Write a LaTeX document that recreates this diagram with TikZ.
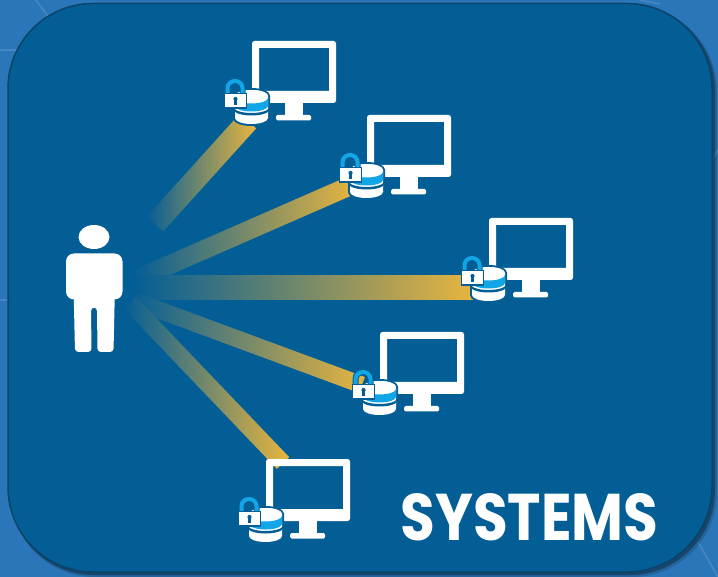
\documentclass[tikz,border=0pt]{standalone}
\usepackage{fontspec}
\setmainfont{Poppins}
\usetikzlibrary{calc,shapes.geometric}
\definecolor{panel}{HTML}{045E96}
\definecolor{outer}{HTML}{2A76B8}
\definecolor{rim}{HTML}{0B4468}
\definecolor{gold}{HTML}{E8B53E}
\definecolor{sky}{HTML}{12A5E8}
\tikzset{
  x=1pt,y=-1pt,
  faint/.style={draw=white,opacity=.13,line width=1.6pt},
  beam/.style={draw=none,inner sep=0,outer sep=0,anchor=west,left color=panel,right color=gold},
}
\newcommand{\beamline}[3]{%
  \path let \p1=(#1),\p2=(#2),\n1={atan2(\y2-\y1,\x2-\x1)},\n2={veclen(\x2-\x1,\y2-\y1)} in
    node[beam,rotate=\n1,minimum width=\n2,minimum height=#3pt] (beam-#2) at (#1) {};}
\newcommand{\sysicon}[3]{%
  \begin{scope}[shift={(#1,#2)}]
    % monitor
    \fill[white,even odd rule,rounded corners=2.5pt] (0,0) rectangle (84,62) [sharp corners] (7,7) rectangle (77,50);
    \fill[white] (33,61) rectangle (51,75);
    \fill[white,rounded corners=1.5pt] (24,74) rectangle (59,79.5);
    % database
    \draw[panel,line width=4pt,fill=panel] (-17,55) -- (-17,77) arc[start angle=180,end angle=0,x radius=16.5,y radius=6] -- (16,55)
       arc[start angle=0,end angle=-180,x radius=16.5,y radius=6] -- cycle;
    \fill[white] (-17,55) -- (-17,77) arc[start angle=180,end angle=0,x radius=16.5,y radius=6] -- (16,55)
       arc[start angle=0,end angle=-180,x radius=16.5,y radius=6];
    \fill[panel] (-18,66.5) arc[start angle=180,end angle=0,x radius=17.5,y radius=5.5] -- (17,69) arc[start angle=0,end angle=180,x radius=17.5,y radius=5.5] -- cycle;
    \fill[sky] (-17,57) arc[start angle=180,end angle=0,x radius=16.5,y radius=5.5] -- (16,65) arc[start angle=0,end angle=180,x radius=16.5,y radius=5.5] -- cycle;
    \fill[white] (-.5,55) ellipse[x radius=16.5,y radius=6];
    % lock
    \draw[panel,line width=6pt] (-24.5,53) -- (-24.5,47) arc[start angle=180,end angle=360,x radius=7.5,y radius=7] -- (-9.5,53);
    \draw[sky,line width=4pt] (-24.5,53) -- (-24.5,47) arc[start angle=180,end angle=360,x radius=7.5,y radius=7] -- (-9.5,53);
    \draw[panel,line width=1.6pt,fill=white] (-27.5,52.5) rectangle (-5.5,67);
    \fill[panel] (-16.5,58) circle[radius=2.1];
    \fill[panel] (-17.7,58.5) rectangle (-15.3,64);
    \coordinate (#3) at (40,30);
  \end{scope}}
\begin{document}
\begin{tikzpicture}
\useasboundingbox (0,0) rectangle (718,577);
\fill[outer] (0,0) rectangle (718,577);
% faint background lines
\draw[faint] (36,0) -- (50,19);
\draw[faint] (0,50) -- (18,50);
\draw[faint] (698,542) -- (718,577);
\draw[faint] (0,300) -- (8,300);
\draw[faint] (712,160) -- (718,150);
\draw[faint] (640,0) -- (660,4);
% panel and its shadow
\fill[black,opacity=.15,rounded corners=85pt] (10,6) rectangle (717,577);
\fill[black,opacity=.30,rounded corners=85pt] (9,5) rectangle (715,575);
\draw[rim,fill=panel,line width=1.5pt,rounded corners=85pt] (8,3.5) rectangle (712,572);
% connector end points
\coordinate (src1) at (155,224);
\coordinate (src2) at (137,279);
\coordinate (src3) at (135,288);
\coordinate (src4) at (132,300);
\coordinate (src5) at (130,303);
\coordinate (end1) at (248,121);
\coordinate (end2) at (352,185);
\coordinate (end3) at (474,288);
\coordinate (end4) at (362,385);
\coordinate (end5) at (283,463);
\beamline{src1}{end1}{22}
\beamline{src2}{end2}{19}
\beamline{src3}{end3}{24}
\beamline{src4}{end4}{17}
\beamline{src5}{end5}{17}
% person
\node[ellipse,fill=white,draw=none,minimum width=31pt,minimum height=24pt,inner sep=0] (head) at (94,237) {};
\fill[white,rounded corners=8pt] (66,253.5) rectangle (122.5,299.5);
\fill[white,rounded corners=3.5pt] (73.5,285) -- (75,352) -- (91.5,352) -- (91,307.5) -- (97,307.5) -- (97.5,352) -- (113.5,352) -- (115,285) -- cycle;
% systems
\sysicon{252}{41}{sys1}
\sysicon{367}{115}{sys2}
\sysicon{489}{218}{sys3}
\sysicon{380}{332}{sys4}
\sysicon{266}{459}{sys5}
\node[text=white,font=\fontsize{66}{66}\selectfont\bfseries,inner sep=0,anchor=base,xscale=.856] (title) at (529.5,540) {SYSTEMS};
\end{tikzpicture}
\end{document}
